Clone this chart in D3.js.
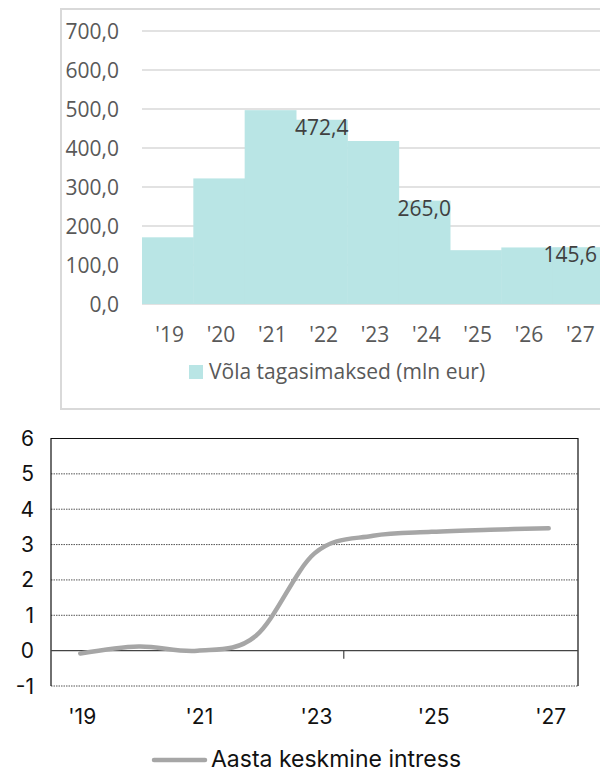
<!DOCTYPE html>
<html>
<head>
<meta charset="utf-8">
<script src="https://cdn.jsdelivr.net/npm/d3@7"></script>
<style>
  body { margin: 0; background: #fff; }
  svg { display: block; }
</style>
</head>
<body>
<div id="chart"></div>
<script>
// top chart: debt repayments
var years = ["'19", "'20", "'21", "'22", "'23", "'24", "'25", "'26", "'27"];
var repayments = [171, 322, 497, 472.4, 418, 265.0, 138, 145, 145.6];
var labelledYears = ["'22", "'24", "'27"];
var repayTicks = [0, 100, 200, 300, 400, 500, 600, 700];
var repayLegend = "Võla tagasimaksed (mln eur)";

// bottom chart: average interest rate
var rateYears = ["'19", "'20", "'21", "'22", "'23", "'24", "'25", "'26", "'27"];
var rateValues = [-0.08, 0.12, 0.0, 0.42, 2.75, 3.25, 3.36, 3.42, 3.46];
var rateTicks = [-1, 0, 1, 2, 3, 4, 5, 6];
var rateAxisLabels = ["'19", "'21", "'23", "'25", "'27"];
var rateLegend = "Aasta keskmine intress";

var fmt = function(v) { return d3.format(".1f")(v).replace(".", ","); };

var svg = d3.select("#chart")
    .append("svg")
    .attr("width", 600)
    .attr("height", 773);

// ---------- top chart ----------
var barG = svg.append("g").attr("font-family", "'Open Sans', sans-serif");

barG.append("rect")
    .attr("x", 61).attr("y", 9)
    .attr("width", 600).attr("height", 400)
    .attr("fill", "#fff")
    .attr("stroke", "#d9d9d9")
    .attr("stroke-width", 2);

var x1 = d3.scaleBand().domain(years).range([142, 604]).padding(0);
var y1 = d3.scaleLinear().domain([0, 700]).range([304, 31]);

barG.selectAll(".grid")
    .data(repayTicks)
    .enter().append("line")
    .attr("x1", 142).attr("x2", 604)
    .attr("y1", function(d) { return y1(d); })
    .attr("y2", function(d) { return y1(d); })
    .attr("stroke", "#d9d9d9")
    .attr("stroke-width", 1.5);

barG.selectAll(".bar")
    .data(repayments)
    .enter().append("rect")
    .attr("x", function(d, i) { return x1(years[i]); })
    .attr("y", function(d) { return y1(d); })
    .attr("width", x1.bandwidth() + 0.5)
    .attr("height", function(d) { return y1(0) - y1(d); })
    .attr("fill", "#b9e5e5");

barG.selectAll(".ytick")
    .data(repayTicks)
    .enter().append("text")
    .attr("x", 119)
    .attr("y", function(d) { return y1(d); })
    .attr("dy", "0.36em")
    .attr("text-anchor", "end")
    .attr("font-size", 21)
    .attr("fill", "#595959")
    .text(fmt);

barG.selectAll(".xtick")
    .data(years)
    .enter().append("text")
    .attr("x", function(d) { return x1(d) + x1.bandwidth() / 2 + 2; })
    .attr("y", 342)
    .attr("text-anchor", "middle")
    .attr("font-size", 21)
    .attr("fill", "#595959")
    .text(function(d) { return d; });

var labels = barG.selectAll(".dlabel")
    .data(repayments.map(function(v, i) { return { year: years[i], value: v }; })
        .filter(function(d) { return labelledYears.indexOf(d.year) >= 0; }))
    .enter().append("text")
    .attr("x", function(d) { return x1(d.year) + x1.bandwidth() / 2; })
    .attr("y", function(d) { return y1(d.value) + 15; })
    .attr("text-anchor", "middle")
    .attr("font-size", 21)
    .attr("fill", "#404040")
    .text(function(d) { return fmt(d.value); });

// keep labels inside the visible area
labels.each(function() {
    var w = this.getComputedTextLength();
    var cx = +this.getAttribute("x");
    if (cx + w / 2 > 597) this.setAttribute("x", 597 - w / 2);
});

barG.append("rect")
    .attr("x", 189).attr("y", 365)
    .attr("width", 14).attr("height", 14)
    .attr("fill", "#b9e5e5");

barG.append("text")
    .attr("x", 209).attr("y", 379)
    .attr("font-size", 21)
    .attr("fill", "#595959")
    .text(repayLegend);

// ---------- bottom chart ----------
var lineG = svg.append("g").attr("font-family", "Inter, sans-serif");

var x2 = d3.scaleBand().domain(rateYears).range([51, 578]).padding(0);
var y2 = d3.scaleLinear().domain([-1, 6]).range([686, 438.5]);

lineG.selectAll(".grid2")
    .data(rateTicks.filter(function(d) { return d !== 0 && d !== 6; }))
    .enter().append("line")
    .attr("x1", 51).attr("x2", 578)
    .attr("y1", function(d) { return y2(d); })
    .attr("y2", function(d) { return y2(d); })
    .attr("stroke", "#555")
    .attr("stroke-width", 1)
    .attr("stroke-dasharray", "1.5,1");

// frame: top, left, right solid
lineG.append("path")
    .attr("d", "M51," + y2(-1) + "V" + y2(6) + "H578V" + y2(-1))
    .attr("fill", "none")
    .attr("stroke", "#111")
    .attr("stroke-width", 1.2);

// zero line and the single category tick
lineG.append("line")
    .attr("x1", 51).attr("x2", 578)
    .attr("y1", y2(0)).attr("y2", y2(0))
    .attr("stroke", "#444")
    .attr("stroke-width", 1.2);

lineG.append("line")
    .attr("x1", x2("'24")).attr("x2", x2("'24"))
    .attr("y1", y2(0)).attr("y2", y2(0) + 8)
    .attr("stroke", "#444")
    .attr("stroke-width", 1.2);

lineG.selectAll(".ytick2")
    .data(rateTicks)
    .enter().append("text")
    .attr("x", 34)
    .attr("y", function(d) { return y2(d); })
    .attr("dy", "0.36em")
    .attr("text-anchor", "end")
    .attr("font-size", 21)
    .attr("fill", "#111")
    .text(function(d) { return d; });

lineG.selectAll(".xtick2")
    .data(rateAxisLabels)
    .enter().append("text")
    .attr("x", function(d) { return x2(d) + x2.bandwidth() / 2 + 2; })
    .attr("y", 724)
    .attr("text-anchor", "middle")
    .attr("font-size", 21)
    .attr("fill", "#111")
    .text(function(d) { return d; });

var line = d3.line()
    .x(function(d, i) { return x2(rateYears[i]) + x2.bandwidth() / 2; })
    .y(function(d) { return y2(d); })
    .curve(d3.curveCardinal.tension(0));

lineG.append("path")
    .datum(rateValues)
    .attr("d", line)
    .attr("fill", "none")
    .attr("stroke", "#a6a6a6")
    .attr("stroke-width", 4.5)
    .attr("stroke-linecap", "round");

lineG.append("line")
    .attr("x1", 154).attr("x2", 205)
    .attr("y1", 760).attr("y2", 760)
    .attr("stroke", "#a6a6a6")
    .attr("stroke-width", 4.5)
    .attr("stroke-linecap", "round");

lineG.append("text")
    .attr("x", 211).attr("y", 767)
    .attr("font-size", 23)
    .attr("fill", "#111")
    .text(rateLegend);
</script>
</body>
</html>
